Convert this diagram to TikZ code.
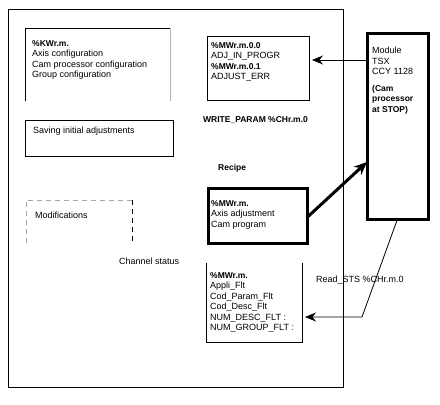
\documentclass[tikz,border=0pt]{standalone}
\usepackage{fontspec}
\setmainfont{Liberation Sans}
\usetikzlibrary{arrows.meta, positioning}

\newcommand{\regname}[1]{{\fontsize{8.5}{10.5}\selectfont\bfseries #1}}

\begin{document}
\begin{tikzpicture}[
  x=1pt, y=-1pt,
  font=\fontsize{9}{10.5}\selectfont, >={Stealth[length=11pt, width=9pt]},
  area/.style={anchor=north west, inner sep=0pt, outer sep=0pt},
  txt/.style={align=left, inner sep=0pt},
  thick box/.style={area, draw, line width=3pt},
  thin line/.style={line width=0.8pt}
]
\useasboundingbox (0,0) rectangle (440,405);

% the PLC frame and its areas
\node[area, draw, thin line, minimum width=335pt, minimum height=378pt] (plc) at (8,9) {};
\node[area, minimum width=145pt, minimum height=73pt] (kw) at (25,28) {};
\node[area, draw, thin line, minimum width=148pt, minimum height=36pt] (sav) at (25,120) {};
\node[area, minimum width=106pt, minimum height=43pt] (mods) at (26,200) {};
\node[area, draw, thin line, minimum width=102pt, minimum height=64pt] (iw) at (207,36) {};
\node[thick box, minimum width=99pt, minimum height=55pt] (mw) at (208,188) {};
\node[area, minimum width=96pt, minimum height=79pt] (sts) at (206,263) {};
\node[thick box, minimum width=61pt, minimum height=186pt] (mod) at (367,33) {};

% open sides
\draw[thin line] (kw.south west) -- (kw.north west) -- (kw.north east);
\draw[thin line, black!30] (kw.north east) -- (kw.south east);
\draw[thin line, black!35, dash pattern=on 5pt off 4pt] (mods.south west) -- (mods.north west) -- (mods.north east);
\draw[thin line, dash pattern=on 5pt off 4pt] (mods.north east) -- (mods.south east);
\draw[thin line] (sts.north west) -- (sts.south west) -- (sts.south east) -- (sts.north east);

% texts inside the areas
\node[txt, below right=12pt and 7pt of kw.north west]
  {\regname{\%KWr.m.}\\Axis configuration\\Cam processor configuration\\Group configuration};
\node[txt, below right=7pt and 8pt of sav.north west] {Saving initial adjustments};
\node[txt, below right=12pt and 9pt of mods.north west] {Modifications};
\node[txt, below right=6pt and 4pt of iw.north west]
  {\regname{\%MWr.m.0.0}\\ADJ\_IN\_PROGR\\\regname{\%MWr.m.0.1}\\ADJUST\_ERR};
\node[txt, below right=12pt and 3pt of mw.north west]
  {\regname{\%MWr.m.}\\Axis adjustment\\Cam program};
\node[txt, below right=9pt and 4pt of sts.north west]
  {\regname{\%MWr.m.}\\Appli\_Flt\\Cod\_Param\_Flt\\Cod\_Desc\_Flt\\NUM\_DESC\_FLT :\\NUM\_GROUP\_FLT :};
\node[txt, below right=14pt and 5pt of mod.north west]
  {Module\\TSX\\CCY 1128\\[6pt]\regname{(Cam}\\\regname{processor}\\\regname{at STOP)}};

% free labels
\node[txt, anchor=north west] (wp) at (203,116) {\regname{WRITE\_PARAM \%CHr.m.0}};
\node[txt, anchor=north west] (rcp) at (218,164) {\regname{Recipe}};
\node[txt, anchor=north west] (chs) at (119,258) {Channel status};
\node[txt, anchor=north west] (rd) at (316,276) {Read\_STS \%CHr.m.0};

% exchanges with the module
\coordinate (bend) at (362,317);
\draw[->, thin line] (mod.west |- 0,60) -- ([xshift=3pt]iw.east |- 0,60);
\draw[-{Stealth[length=13pt, width=11pt]}, line width=3pt] ([yshift=-2pt]mw.east) -- (mod.west |- 0,162);
\draw[->, thin line] (mod.south) -- (bend) -- ([xshift=3pt]sts.east |- bend);
\end{tikzpicture}
\end{document}
